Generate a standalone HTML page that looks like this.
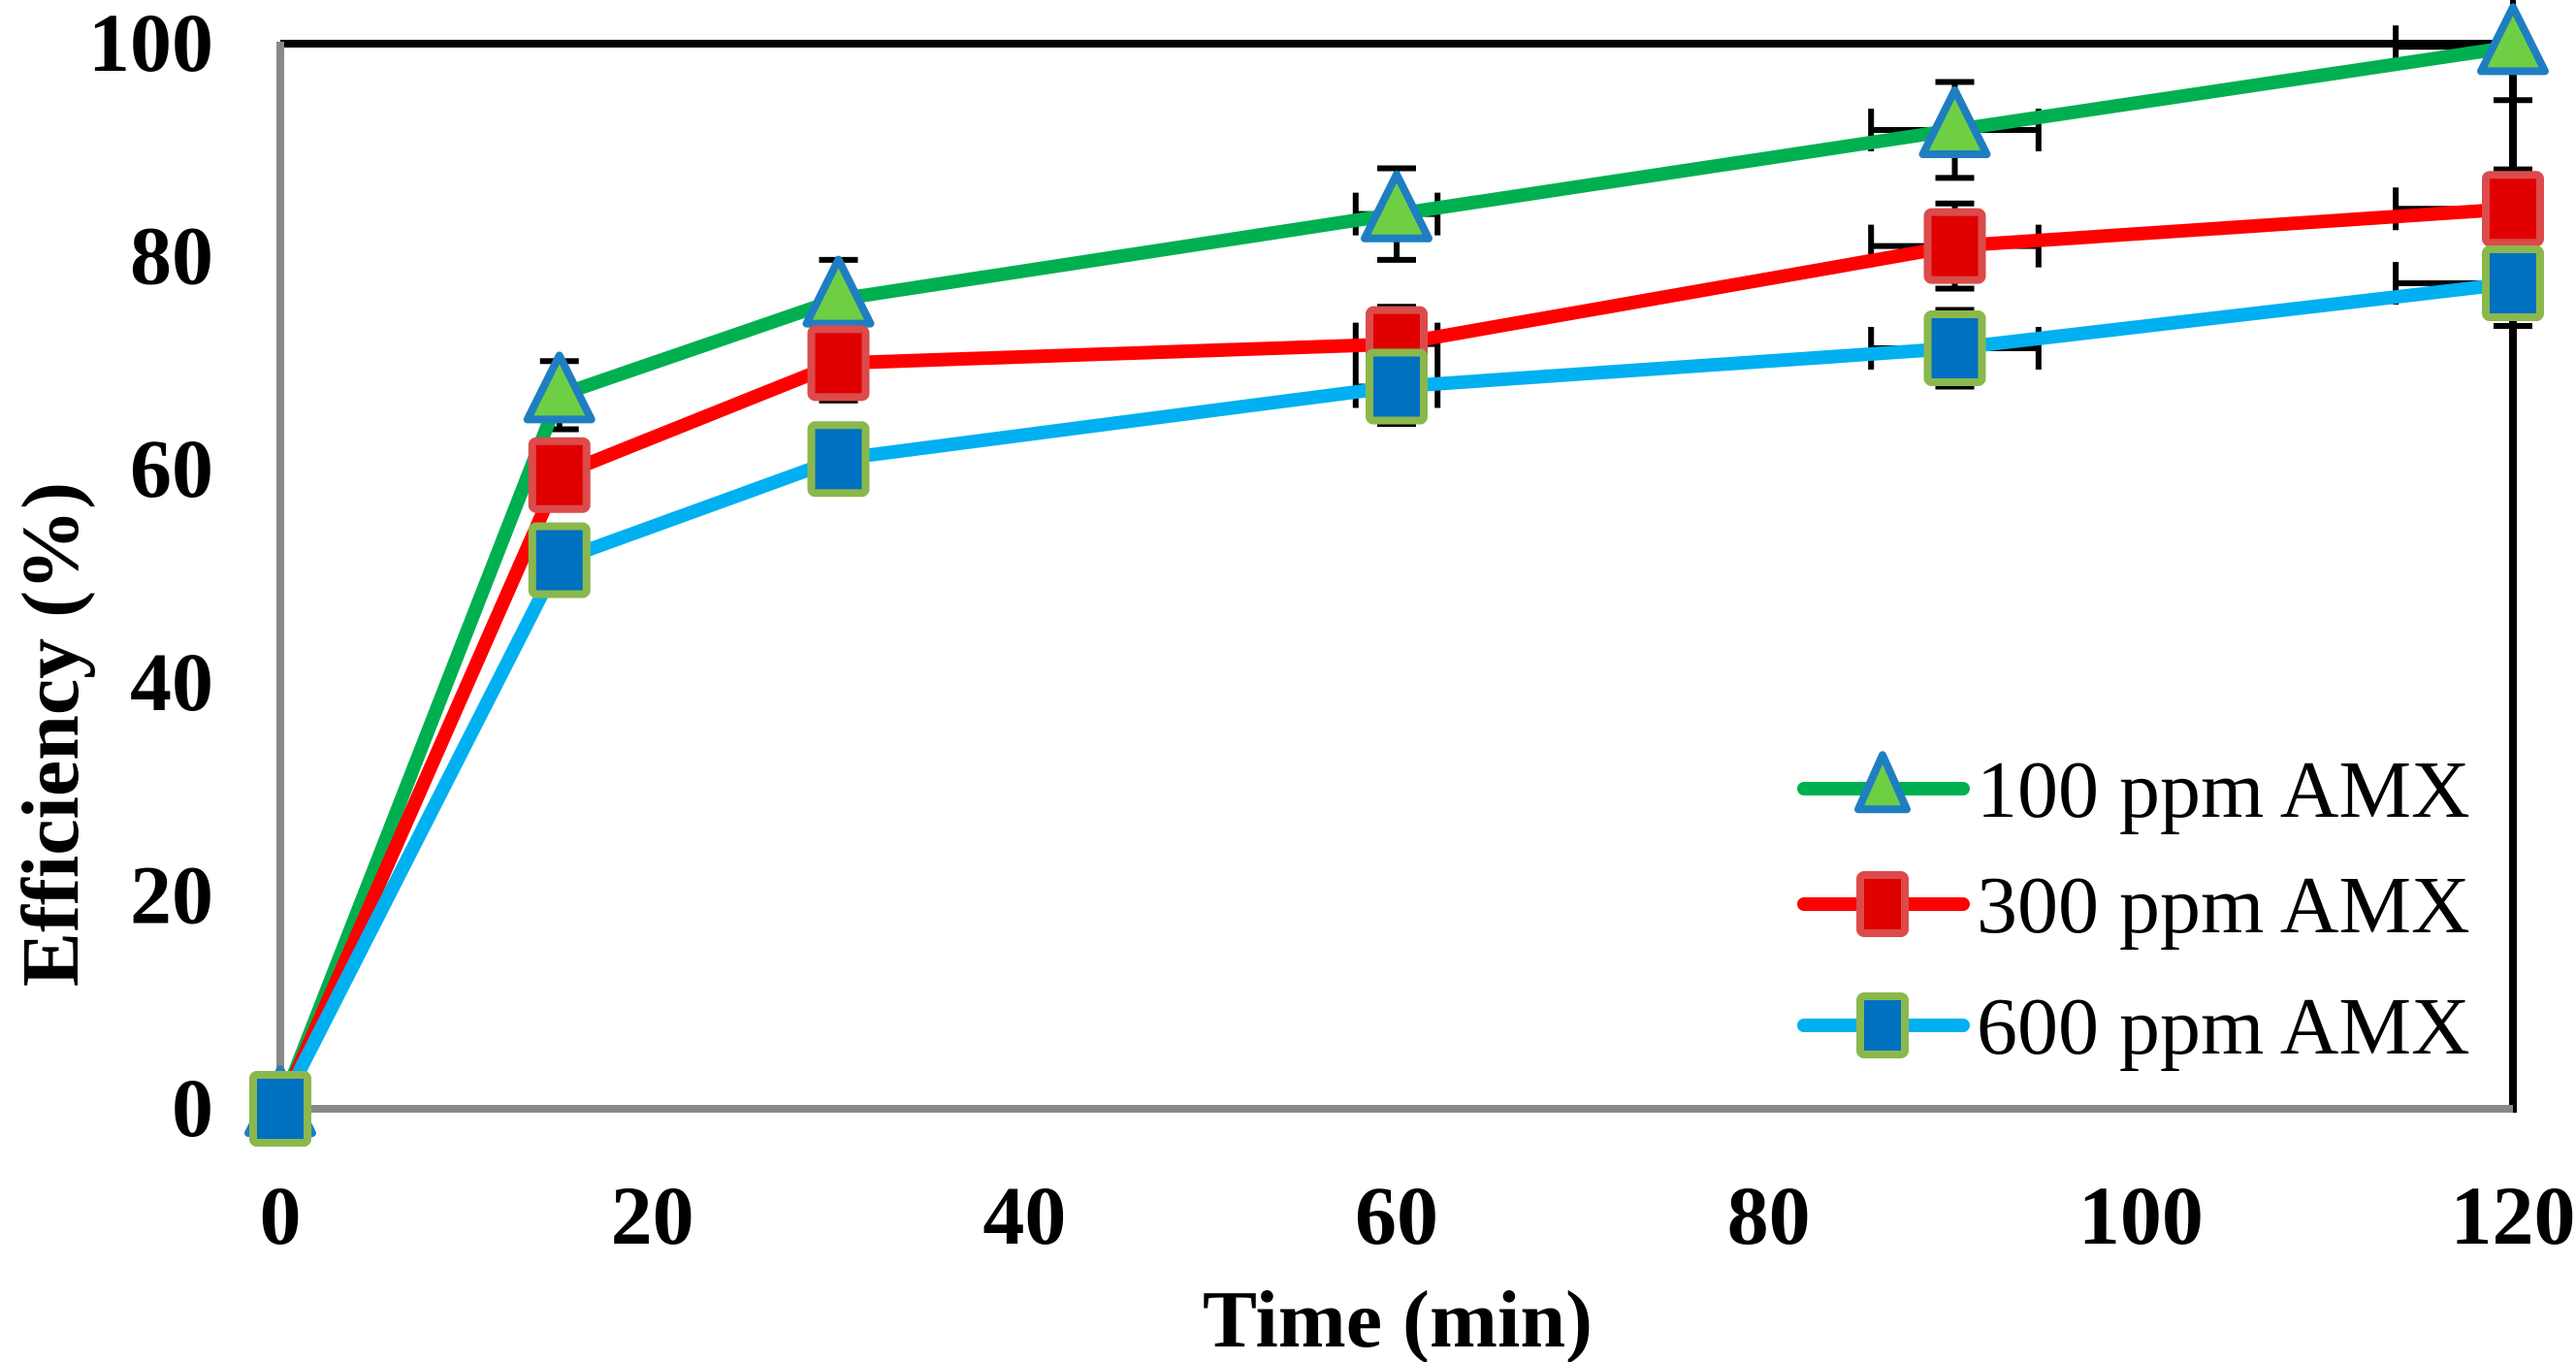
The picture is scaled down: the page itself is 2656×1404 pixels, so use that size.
<!DOCTYPE html>
<html><head><meta charset="utf-8"><style>
html,body{margin:0;padding:0;background:#fff;}
svg{display:block;}
text{font-family:"Liberation Serif","Times New Roman",serif;fill:#000;}
</style></head><body>
<svg id="chart" width="2656" height="1404" viewBox="0 0 2656 1404" xmlns="http://www.w3.org/2000/svg"></svg>
<script>
const times = [0, 15, 30, 60, 90, 120];
const seriesNames = ["100 ppm AMX", "300 ppm AMX", "600 ppm AMX"];
const eff100 = [0, 67, 76, 84, 91.9, 99.7];
const eff300 = [0, 59.5, 70, 71.8, 81, 84.5];
const eff600 = [0, 51.5, 61, 67.8, 71.4, 77.5];
const yErr100 = [0, 3.2, 3.7, 4.3, 4.5, 5];
const yErr300 = [0, 3.2, 3.5, 3.5, 4, 3.7];
const yErr600 = [0, 2, 3.2, 3.5, 3.6, 4];
const xErrMinus = [0, 0, 0, 2.2, 4.5, 6.3];
const xErrPlus = [0, 0, 0, 2.2, 4.5, 0];
const xTicks = [0, 20, 40, 60, 80, 100, 120];
const yTicks = [0, 20, 40, 60, 80, 100];

const X0 = 289, X1 = 2591, Y0 = 1143, Y1 = 45;
function sx(v){ return X0 + (v - 0) / 120 * (X1 - X0); }
function sy(v){ return Y0 - v / 100 * (Y0 - Y1); }
const NS = "http://www.w3.org/2000/svg";
const svg = document.getElementById('chart');
function mk(tag, attrs, parent){
  const e = document.createElementNS(NS, tag);
  for (const k in attrs) e.setAttribute(k, attrs[k]);
  (parent || svg).appendChild(e);
  return e;
}

let a;
a = mk('line', {x1:X0, y1:Y1, x2:X1, y2:Y1, stroke:'#000', 'stroke-width':8});


a = mk('line', {x1:X1, y1:Y1-4, x2:X1, y2:Y0+4, stroke:'#000', 'stroke-width':8});


a = mk('line', {x1:X0, y1:Y1-2, x2:X0, y2:Y0, stroke:'#898989', 'stroke-width':8});


a = mk('line', {x1:X0-4, y1:Y0, x2:X1, y2:Y0, stroke:'#898989', 'stroke-width':8});



yTicks.forEach(v => {
  const t = mk('text', {x:220, y:sy(v)+28, 'text-anchor':'end', 'font-size':86, 'font-weight':'bold'});
  t.textContent = v;
  
  
});
xTicks.forEach(v => {
  const t = mk('text', {x:sx(v), y:1282, 'text-anchor':'middle', 'font-size':86, 'font-weight':'bold'});
  t.textContent = v;
  
  
});
let tt = mk('text', {x:1441, y:1388, 'text-anchor':'middle', 'font-size':84, 'font-weight':'bold'});
tt.textContent = 'Time (min)';


tt = mk('text', {x:0, y:0, 'text-anchor':'middle', 'font-size':84, 'font-weight':'bold', transform:'translate(80,757) rotate(-90)'});
tt.textContent = 'Efficiency (%)';



const series = [
  {vals:eff100, err:yErr100, line:'#00b050', marker:'tri', fill:'#6fcf44', stroke:'#1f7ec2'},
  {vals:eff300, err:yErr300, line:'#ff0000', marker:'sq', fill:'#e00000', stroke:'#dc4b4b'},
  {vals:eff600, err:yErr600, line:'#00b0f0', marker:'sq', fill:'#0070c0', stroke:'#8bb84c'}
];

function marker(type, cx, cy, fill, stroke, parent, w, h){
  if (type === 'tri') {
    return mk('polygon', {points:`${cx},${cy-h*0.62} ${cx+w/2},${cy+h*0.38} ${cx-w/2},${cy+h*0.38}`, fill:fill, stroke:stroke, 'stroke-width':8, 'stroke-linejoin':'round'}, parent);
  }
  return mk('rect', {x:cx-w/2, y:cy-h/2, width:w, height:h, rx:4, fill:fill, stroke:stroke, 'stroke-width':8}, parent);
}

series.forEach((s, si) => {
  const g = mk('g', {stroke:'#000', 'stroke-width':6});
  
  
  times.forEach((t, i) => {
    if (s.err[i] > 0) {
      const x = sx(t), yt = sy(s.vals[i] + s.err[i]), yb = sy(s.vals[i] - s.err[i]);
      mk('line', {x1:x, y1:yt, x2:x, y2:yb}, g);
      mk('line', {x1:x-20, y1:yt, x2:x+20, y2:yt}, g);
      mk('line', {x1:x-20, y1:yb, x2:x+20, y2:yb}, g);
    }
    const y = sy(s.vals[i]);
    if (xErrMinus[i] > 0) {
      const xl = sx(t - xErrMinus[i]);
      mk('line', {x1:xl, y1:y, x2:sx(t), y2:y}, g);
      mk('line', {x1:xl, y1:y-22, x2:xl, y2:y+22}, g);
    }
    if (xErrPlus[i] > 0) {
      const xr = sx(t + xErrPlus[i]);
      mk('line', {x1:sx(t), y1:y, x2:xr, y2:y}, g);
      mk('line', {x1:xr, y1:y-22, x2:xr, y2:y+22}, g);
    }
  });
});

series.forEach((s, si) => {
  const pts = times.map((t, i) => sx(t) + ',' + sy(s.vals[i])).join(' ');
  const pl = mk('polyline', {points:pts, fill:'none', stroke:s.line, 'stroke-width':14, 'stroke-linejoin':'round'});
  
  
});
series.forEach((s, si) => {
  times.forEach((t, i) => {
    const m = marker(s.marker, sx(t), sy(s.vals[i]), s.fill, s.stroke, svg, s.marker==='tri'?66:56, s.marker==='tri'?66:70);
    
    
  });
});

const legY = [813, 932, 1057];
series.forEach((s, si) => {
  const g = mk('g', {});
  
  
  mk('line', {x1:1860, y1:legY[si], x2:2024, y2:legY[si], stroke:s.line, 'stroke-width':14, 'stroke-linecap':'round'}, g);
  marker(s.marker, 1941, legY[si], s.fill, s.stroke, g, s.marker==='tri'?50:46, s.marker==='tri'?56:60);
  const t = mk('text', {x:2038, y:legY[si]+29, 'font-size':84}, g);
  t.textContent = seriesNames[si];
});
</script>
</body></html>
